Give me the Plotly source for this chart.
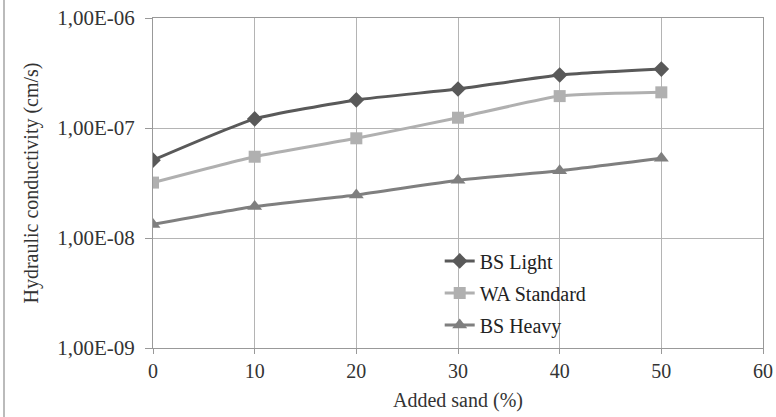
import plotly.graph_objects as go

sand = [0, 10, 20, 30, 40, 50]
bs_light = [5.1e-8, 1.21e-7, 1.80e-7, 2.26e-7, 3.03e-7, 3.43e-7]
wa_standard = [3.19e-8, 5.48e-8, 8.06e-8, 1.24e-7, 1.95e-7, 2.11e-7]
bs_heavy = [1.33e-8, 1.93e-8, 2.46e-8, 3.35e-8, 4.09e-8, 5.31e-8]

y_tickvals = [1e-9, 1e-8, 1e-7, 1e-6]
y_ticktext = ["1,00E-09", "1,00E-08", "1,00E-07", "1,00E-06"]
x_tickvals = [0, 10, 20, 30, 40, 50, 60]

FONT = "Liberation Serif, Times New Roman, DejaVu Serif, serif"
fig = go.Figure()
series = [
    ("BS Light", bs_light, "#595959", "diamond", 12),
    ("WA Standard", wa_standard, "#b0b0b0", "square", 12),
    ("BS Heavy", bs_heavy, "#7f7f7f", "triangle-up", 13),
]
for name, vals, color, sym, size in series:
    fig.add_trace(go.Scatter(
        x=sand, y=vals, name=name, mode="lines+markers", legendgroup=name,
        line=dict(color=color, width=3, shape="spline", smoothing=0.5),
        marker=dict(symbol=sym, size=size, color=color),
    ))

grid = "#b4b4b4"
fig.update_layout(
    width=776, height=417,
    margin=dict(l=153, r=13, t=18, b=69, autoexpand=False),
    paper_bgcolor="white", plot_bgcolor="white",
    font=dict(family=FONT, size=19, color="#333333"),
    showlegend=True,
    legend=dict(x=0.47, y=0.323, xanchor="left", yanchor="top", traceorder="grouped",
                bgcolor="rgba(0,0,0,0)", font=dict(size=20, family=FONT, color="#222222"),
                tracegroupgap=3),
    xaxis=dict(range=[0, 60], tickvals=x_tickvals, showgrid=True, gridcolor=grid, gridwidth=1,
               showline=True, linecolor="#999999", linewidth=1, mirror=True, automargin=False,
               ticks="outside", ticklen=5, tickcolor="#999999", zeroline=False,
               tickfont=dict(size=20, family=FONT, color="#333333"),
               title=dict(text="Added sand (%)", font=dict(size=20, family=FONT, color="#333333"), standoff=11)),
    yaxis=dict(type="log", range=[-9, -6], tickvals=y_tickvals, ticktext=y_ticktext,
               showgrid=True, gridcolor=grid, gridwidth=1,
               showline=True, linecolor="#999999", linewidth=1, mirror=True, automargin=False,
               ticks="outside", ticklen=7, tickcolor="#999999", zeroline=False,
               ticklabelstandoff=6,
               tickfont=dict(size=21, family=FONT, color="#333333"),
               title=dict(text="Hydraulic conductivity (cm/s)", font=dict(size=20, family=FONT, color="#333333"), standoff=13)),
)
fig.add_shape(type="line", xref="paper", yref="paper", x0=-149/610, x1=-149/610, y0=-69/330, y1=1 + 18/330,
              line=dict(color="#bbbbbb", width=2))
fig.write_html("out.html")
